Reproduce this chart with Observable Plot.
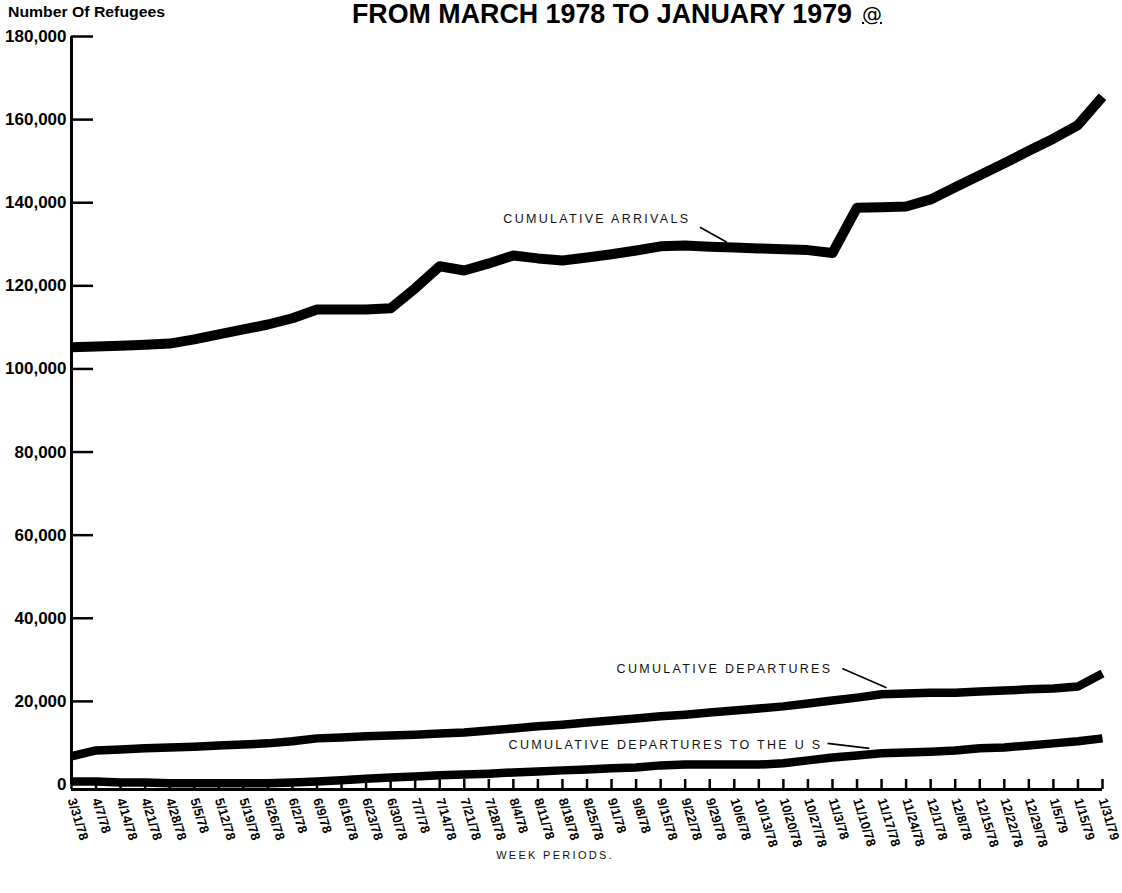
<!DOCTYPE html>
<html><head><meta charset="utf-8">
<script src="https://cdn.jsdelivr.net/npm/d3@7"></script>
<script src="https://cdn.jsdelivr.net/npm/@observablehq/plot@0.6"></script>
<style>
body{margin:0;background:#fff;}
#head{position:relative;height:24px;width:1122px;overflow:visible;z-index:1;}
#ylab{position:absolute;left:8px;top:5px;font:bold 14px/15px "Liberation Sans",Arial,sans-serif;transform-origin:0 0;white-space:nowrap;color:#000;}
#title{position:absolute;left:352px;top:0px;font:bold 28px/28px "Liberation Sans",Arial,sans-serif;transform-origin:0 0;white-space:nowrap;color:#000;}
#at{position:absolute;left:862px;top:3px;font:20px/22px "DejaVu Sans",sans-serif;text-decoration:underline;color:#000;}
</style></head>
<body>
<div id="head"><span id="ylab">Number Of Refugees</span><span id="title">FROM MARCH 1978 TO JANUARY 1979</span><span id="at">@</span></div>
<div id="chart"></div>
<script>
const weekLabels = ["3/31/78","4/7/78","4/14/78","4/21/78","4/28/78","5/5/78","5/12/78","5/19/78","5/26/78","6/2/78","6/9/78","6/16/78","6/23/78","6/30/78","7/7/78","7/14/78","7/21/78","7/28/78","8/4/78","8/11/78","8/18/78","8/25/78","9/1/78","9/8/78","9/15/78","9/22/78","9/29/78","10/6/78","10/13/78","10/20/78","10/27/78","11/3/78","11/10/78","11/17/78","11/24/78","12/1/78","12/8/78","12/15/78","12/22/78","12/29/78","1/5/79","1/15/79","1/31/79"];
const arrivals = [105200,105400,105600,105800,106100,107100,108300,109500,110700,112200,114300,114300,114300,114600,119400,124700,123700,125400,127300,126600,126100,126800,127600,128500,129500,129700,129400,129200,129000,128800,128600,127900,138800,138900,139100,140800,143700,146600,149500,152500,155400,158700,165500];
const departures = [6800,8200,8400,8700,8900,9100,9400,9600,9900,10400,11100,11300,11600,11800,12000,12300,12500,13000,13500,14000,14400,14900,15400,15900,16400,16800,17300,17800,18300,18800,19500,20200,20900,21700,21900,22100,22100,22400,22600,22900,23100,23600,26700];
const departuresUS = [700,700,500,500,300,300,300,300,300,500,700,1000,1400,1700,1900,2200,2400,2600,2900,3100,3400,3600,3900,4100,4600,4800,4800,4800,4800,5100,5800,6500,7000,7500,7700,7900,8200,8700,8900,9400,9900,10400,11100];
const yTicks = [0,20000,40000,60000,80000,100000,120000,140000,160000,180000];
const seriesLabels = [
  {text:"CUMULATIVE ARRIVALS", x:21.4, y:136200},
  {text:"CUMULATIVE DEPARTURES", x:26.6, y:27900},
  {text:"CUMULATIVE DEPARTURES TO THE U S", x:24.2, y:9400}
];
const leaders = [
  {x1:25.6, y1:134100, x2:26.7, y2:130500},
  {x1:31.4, y1:27900, x2:33.2, y2:23300},
  {x1:30.8, y1:9900, x2:32.5, y2:8700}
];
const xTitle = [{text:"WEEK PERIODS.", x:19.7}];

const W = 1122, H = 869, mL = 71, mR = 20, mT = 12, mB = 109;
const plotW = W - mL - mR, plotH = H - mT - mB;
const idx = weekLabels.map((_, i) => i);
const lineOpts = {x: (d, i) => i, y: d => d, stroke: "#000", strokeLinejoin: "round", strokeLinecap: "butt"};

const chart = Plot.plot({
  width: W, height: H,
  marginLeft: mL, marginRight: mR, marginTop: mT, marginBottom: mB,
  style: {fontFamily: "'Liberation Sans', Arial, sans-serif", background: "#fff", color: "#000", overflow: "visible"},
  x: {domain: [0, weekLabels.length - 1]},
  y: {domain: [0, 180000]},
  marks: [
    Plot.axisY({ticks: yTicks, tickSize: 0, tickPadding: 5, tickFormat: d3.format(","), fontSize: 17, fontWeight: "bold", label: null}),
    Plot.axisX({ticks: idx, tickFormat: i => weekLabels[i], tickSize: 0, tickPadding: 14, tickRotate: 73, fontSize: 13, fontWeight: "bold", label: null}),
    Plot.ruleX([0], {y1: 0, y2: 180000, strokeWidth: 3}),
    Plot.tickY(yTicks.filter(v => v > 0), {y: d => d, strokeWidth: 2.5, insetRight: plotW - 22}),
    Plot.ruleY([0], {x1: 0, x2: weekLabels.length - 1, strokeWidth: 3, dy: 5}),
    Plot.tickX(idx, {x: d => d, strokeWidth: 2.5, insetTop: plotH - 10, dy: 5}),
    Plot.line(departuresUS, {...lineOpts, strokeWidth: 8.5}),
    Plot.line(departures, {...lineOpts, strokeWidth: 8.5}),
    Plot.line(arrivals, {...lineOpts, strokeWidth: 10}),
    Plot.text(seriesLabels, {x: "x", y: "y", text: "text", fontSize: 12.5, fill: "#111"}),
    Plot.link(leaders, {x1: "x1", y1: "y1", x2: "x2", y2: "y2", strokeWidth: 1.6, stroke: "#000"}),
    Plot.text(xTitle, {x: "x", text: "text", frameAnchor: "bottom", dy: 74, fontSize: 11, fill: "#111"})
  ]
});
d3.select(chart).selectAll('g[aria-label="text"]').attr("letter-spacing", "2.3px");
document.getElementById("chart").appendChild(chart);

function fit(id, target) {
  const el = document.getElementById(id);
  const w = el.getBoundingClientRect().width;
  el.style.transform = `scale(${target / w}, 1)`;
}
fit("title", 500);
fit("ylab", 157);
</script>
</body></html>
